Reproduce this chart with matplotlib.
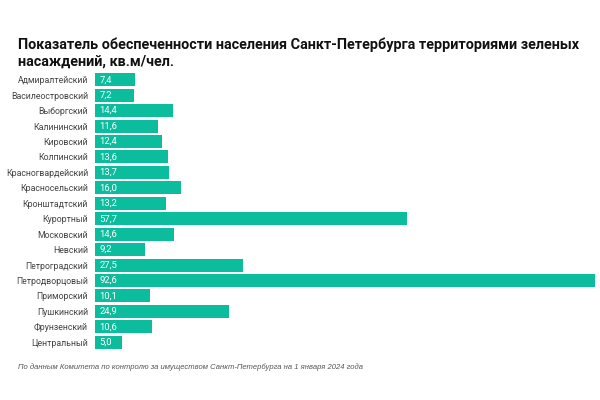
import matplotlib
matplotlib.use("Agg")
import matplotlib.pyplot as plt

districts = ["Адмиралтейский", "Василеостровский", "Выборгский", "Калининский", "Кировский",
             "Колпинский", "Красногвардейский", "Красносельский", "Кронштадтский", "Курортный",
             "Московский", "Невский", "Петроградский", "Петродворцовый", "Приморский",
             "Пушкинский", "Фрунзенский", "Центральный"]
values = [7.4, 7.2, 14.4, 11.6, 12.4, 13.6, 13.7, 16.0, 13.2, 57.7,
          14.6, 9.2, 27.5, 92.6, 10.1, 24.9, 10.6, 5.0]
value_labels = ["7,4", "7,2", "14,4", "11,6", "12,4", "13,6", "13,7", "16,0", "13,2", "57,7",
                "14,6", "9,2", "27,5", "92,6", "10,1", "24,9", "10,6", "5,0"]

title = "Показатель обеспеченности населения Санкт-Петербурга территориями зеленых\nнасаждений, кв.м/чел."
note = "По данным Комитета по контролю за имуществом Санкт-Петербурга на 1 января 2024 года"

color = "#0bbd9d"

fig = plt.figure(figsize=(6, 4), dpi=100)
ax = fig.add_axes([95/600, 1-350/400, 505/600, 278/400])
y = list(range(len(districts)))
ax.barh(y, values, height=0.84, color=color)
ax.set_ylim(len(districts)-0.5, -0.5)
ax.set_xlim(0, 92.6*505/500)
ax.set_yticks(y)
ax.set_yticklabels(districts, fontsize=6.3, color="#444444", family="Roboto")
ax.tick_params(axis="y", length=0, pad=5)
ax.set_xticks([])
for s in ax.spines.values():
    s.set_visible(False)
for yi, v, lab in zip(y, values, value_labels):
    ax.text(0.8, yi, lab, va="center", ha="left", color="white", fontsize=6.8, family="Roboto")

fig.text(18/600, 1-38/400, title, fontsize=10.4, fontweight="bold", family="Roboto",
         va="top", ha="left", color="#111111", linespacing=1.15)
fig.text(18/600, 1-367/400, note, fontsize=5.5, style="italic", family="Liberation Sans",
         va="center", ha="left", color="#555555")

fig.savefig("out.png", dpi=100)
